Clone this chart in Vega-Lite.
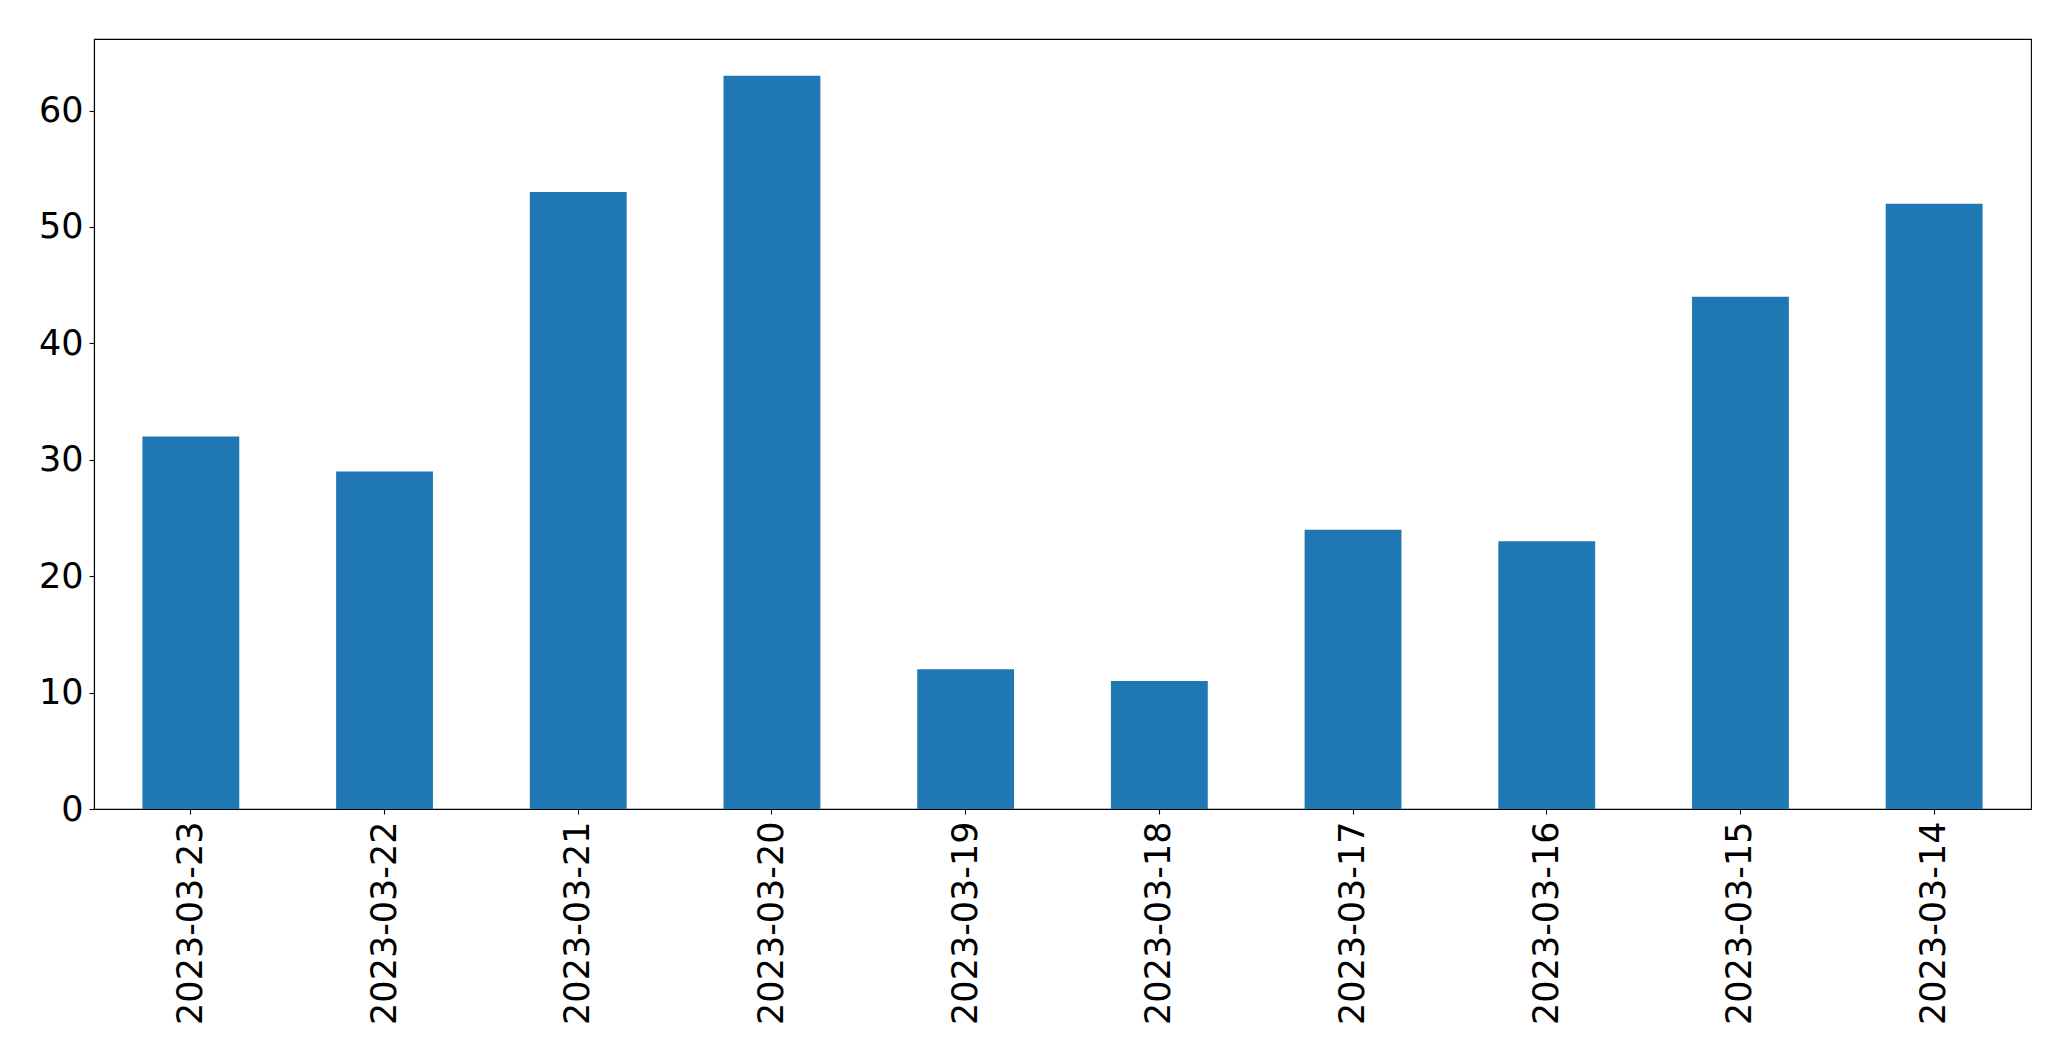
{
  "$schema": "https://vega.github.io/schema/vega-lite/v6.json",
  "autosize": "none",
  "padding": {"left": 94, "top": 39, "right": 40, "bottom": 252},
  "width": 1937,
  "height": 770,
  "background": "white",
  "config": {
    "view": {"stroke": "black", "strokeWidth": 1.1},
    "font": "DejaVu Sans"
  },
  "data": {
    "values": [
      {"date": "2023-03-23", "count": 32},
      {"date": "2023-03-22", "count": 29},
      {"date": "2023-03-21", "count": 53},
      {"date": "2023-03-20", "count": 63},
      {"date": "2023-03-19", "count": 12},
      {"date": "2023-03-18", "count": 11},
      {"date": "2023-03-17", "count": 24},
      {"date": "2023-03-16", "count": 23},
      {"date": "2023-03-15", "count": 44},
      {"date": "2023-03-14", "count": 52}
    ]
  },
  "mark": {"type": "bar", "color": "#1f77b4"},
  "encoding": {
    "x": {
      "field": "date",
      "type": "nominal",
      "sort": null,
      "scale": {"paddingInner": 0.5, "paddingOuter": 0.25},
      "axis": {
        "title": null,
        "labelAngle": -90,
        "labelLimit": 1000,
        "labelFont": "DejaVu Sans",
        "labelFontSize": 35,
        "labelColor": "black",
        "labelPadding": 7,
        "tickSize": 5,
        "tickColor": "black",
        "tickWidth": 1.1,
        "domainColor": "black",
        "domainWidth": 1.1
      }
    },
    "y": {
      "field": "count",
      "type": "quantitative",
      "scale": {"domain": [0, 66.15], "nice": false, "zero": true},
      "axis": {
        "title": null,
        "values": [0, 10, 20, 30, 40, 50, 60],
        "grid": false,
        "labelFont": "DejaVu Sans",
        "labelFontSize": 35,
        "labelColor": "black",
        "labelPadding": 6,
        "tickSize": 5,
        "tickColor": "black",
        "tickWidth": 1.1,
        "domainColor": "black",
        "domainWidth": 1.1
      }
    }
  }
}
